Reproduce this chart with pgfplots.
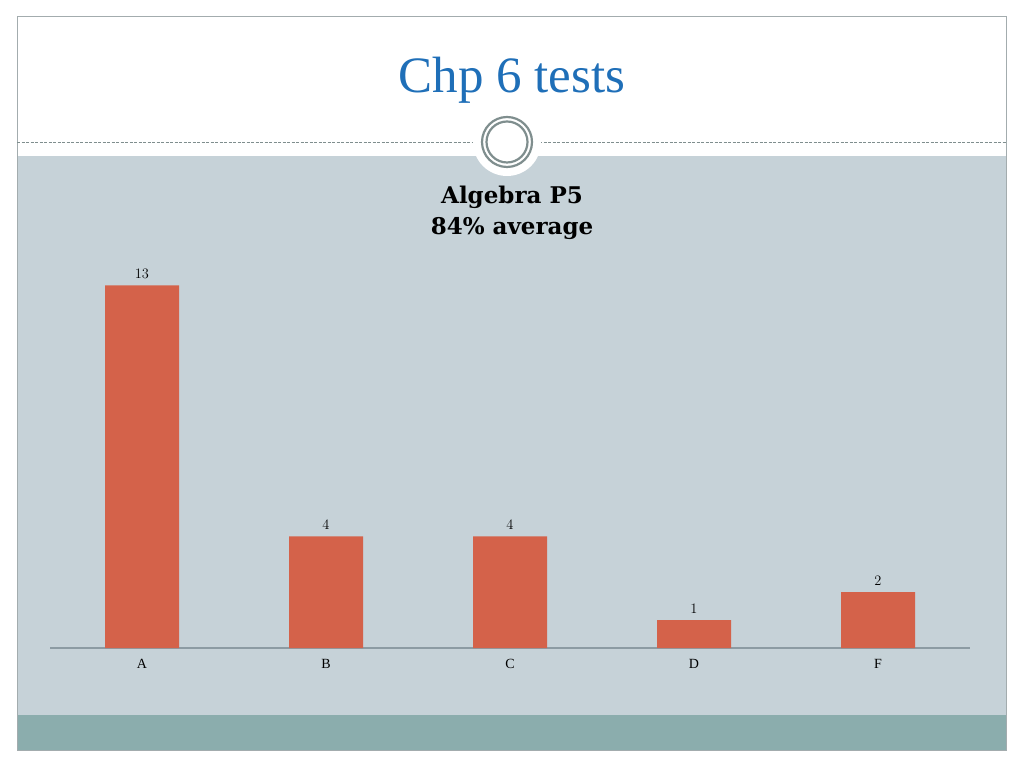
\documentclass[border=0pt]{standalone}
\usepackage{pgfplots}
\pgfplotsset{compat=1.18}
\usepackage{fontspec}
\setmainfont{Liberation Serif}
\newfontfamily\georg{DejaVu Serif}
\definecolor{slidebg}{HTML}{C6D2D8}
\definecolor{teal}{HTML}{8BADAD}
\definecolor{barc}{HTML}{D4624A}
\definecolor{titleblue}{HTML}{1F6FB8}
\definecolor{ringc}{HTML}{7F8E8E}
\definecolor{axc}{HTML}{8C9BA3}
\definecolor{borderc}{HTML}{A3ACAE}
\begin{document}
\begin{tikzpicture}[x=1pt,y=1pt]
% page
\fill[white] (0,0) rectangle (1024,768);
\fill[slidebg] (17,768-715) rectangle (1006,768-156);
\fill[teal] (17,768-750) rectangle (1006,768-715);
\draw[borderc, line width=1pt] (17,768-750) rectangle (1006,768-17);
\draw[ringc, line width=1pt, dash pattern=on 3pt off 1.5pt] (17,768-143) -- (1006,768-143);
% circle ornament
\fill[white] (507,768-142) circle (34);
\draw[ringc, line width=2.2pt] (507,768-142) circle (25);
\draw[ringc, line width=2.2pt] (507,768-142) circle (20.5);
% title
\node[text=titleblue, font=\fontsize{51}{58}\selectfont] at (512,768-80) {Chp 6 tests};
\node[align=center, font=\georg\bfseries\fontsize{23}{31}\selectfont] at (512,768-213) {Algebra P5\\84\% average};
\begin{axis}[
  at={(50pt,120pt)}, anchor=south west,
  scale only axis, width=920pt, height=390.6pt,
  xmin=-0.5, xmax=4.5, ymin=0, ymax=14,
  axis x line*=bottom, hide y axis,
  x axis line style={-, draw=axc, line width=1.2pt},
  xtick=data, xticklabels={A,B,C,D,F},
  xtick style={draw=none},
  ticklabel style={font=\fontsize{14}{16}\selectfont},
  xticklabel style={yshift=-3pt, text height=10pt, text depth=0pt},
  ybar, bar width=74pt,
  nodes near coords,
  every node near coord/.append style={font=\fontsize{14}{16}\selectfont, yshift=3pt},
  clip=false,
]
\addplot[fill=barc, draw=none] coordinates {(0,13) (1,4) (2,4) (3,1) (4,2)};
\end{axis}
\end{tikzpicture}
\end{document}
